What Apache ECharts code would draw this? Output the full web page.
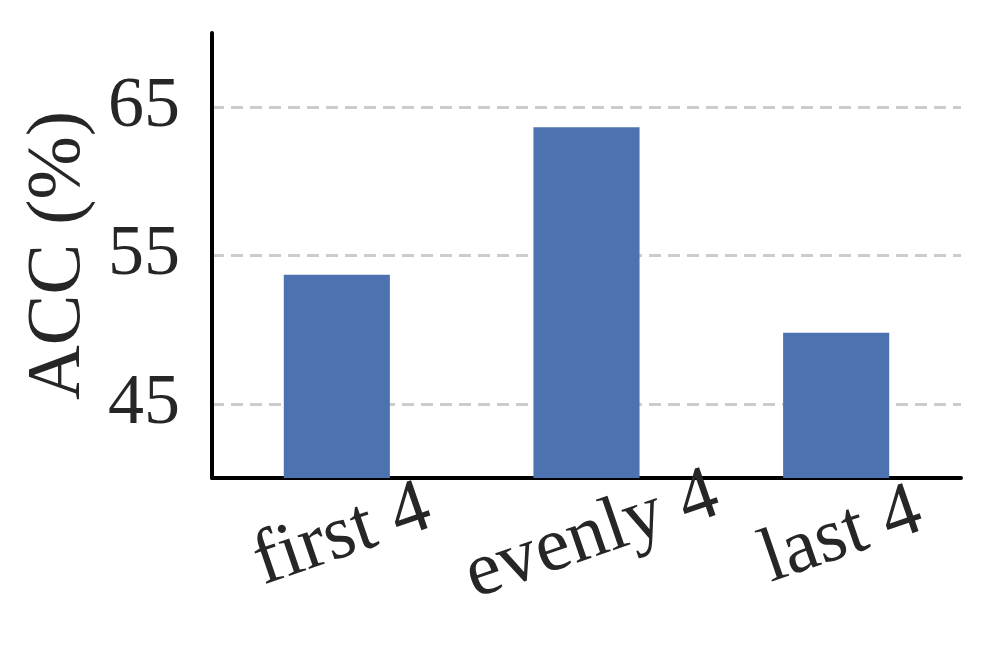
<!DOCTYPE html>
<html>
<head>
<meta charset="utf-8">
<script src="https://cdn.jsdelivr.net/npm/echarts@6/dist/echarts.min.js"></script>
<style>
  html, body { margin: 0; padding: 0; background: #fff; }
</style>
</head>
<body>
<div id="main" style="width:994px;height:645px;"></div>
<script>
// data
var categories = ['first 4', 'evenly 4', 'last 4'];
var accValues = [53.7, 63.65, 49.8];
var yTickLabels = [45, 55, 65];

var chart = echarts.init(document.getElementById('main'));
var serif = "'Times New Roman', 'Liberation Serif', Times, serif";

chart.setOption({
  animation: false,
  backgroundColor: '#ffffff',
  textStyle: { fontFamily: serif },
  grid: { left: 212, right: 33, top: 33, bottom: 167 },
  xAxis: {
    type: 'category',
    data: categories,
    axisLine: { lineStyle: { color: '#000', width: 4 } },
    axisTick: { show: false },
    axisLabel: {
      interval: 0,
      hideOverlap: false,
      rotate: 19,
      align: 'center',
      verticalAlign: 'middle',
      margin: 60,
      padding: [0, 0, 0, 12],
      fontFamily: serif,
      fontSize: 77,
      color: '#262626'
    }
  },
  yAxis: {
    type: 'value',
    min: 40,
    max: 70,
    interval: 5,
    name: 'ACC (%)',
    nameLocation: 'middle',
    nameGap: 108,
    nameTextStyle: { fontFamily: serif, fontSize: 76, color: '#262626' },
    axisLine: { show: true, lineStyle: { color: '#000', width: 4 } },
    axisTick: { show: false },
    axisLabel: {
      margin: 32,
      fontFamily: serif,
      fontSize: 72,
      color: '#262626',
      formatter: function (v) {
        return yTickLabels.indexOf(v) >= 0 ? String(v) : '';
      }
    },
    splitLine: {
      show: true,
      // only the 45/55/65 lines are visible
      lineStyle: { color: ['rgba(0,0,0,0)', '#cccccc'], width: 3, type: [12, 7] }
    }
  },
  series: [
    {
      type: 'bar',
      data: accValues,
      barWidth: '42.5%',
      itemStyle: { color: '#4c72b0' }
    }
  ]
});
</script>
</body>
</html>
